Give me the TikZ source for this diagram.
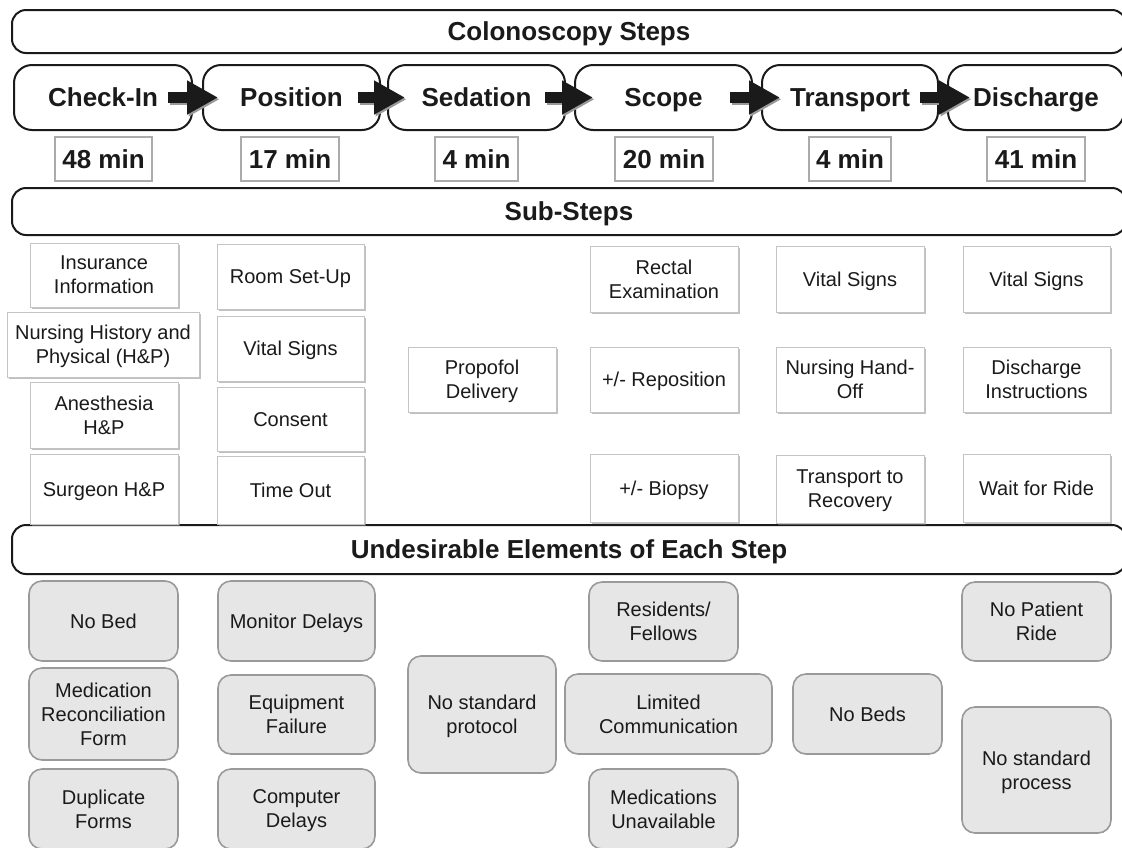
\documentclass[tikz,border=0pt]{standalone}
\usepackage{fontspec}
\setmainfont{Liberation Sans}
\usetikzlibrary{arrows.meta,shadows}
\definecolor{txt}{HTML}{1A1A1A}
\definecolor{gfill}{HTML}{E6E6E6}
\definecolor{gline}{HTML}{9A9A9A}
\definecolor{sline}{HTML}{C4C4C4}
\definecolor{mline}{HTML}{ABABAB}
\newcommand{\nodepth}[1]{\raisebox{0pt}[\height][0pt]{#1}}
\begin{document}
\begin{tikzpicture}[x=1pt,y=-1pt,
  every node/.style={inner sep=0pt, outer sep=0pt, text=txt, align=center},
  bigtext/.style={font=\fontsize{26}{30}\selectfont\bfseries, text height=18.7pt, text depth=0pt},
  one/.style={text height=14.4pt, text depth=0pt},
  hdr/.style={draw=txt, line width=2pt, rounded corners=14pt, fill=white,
    bigtext, minimum width=1114},
  stepbox/.style={draw=txt, line width=2pt, rounded corners=18pt, fill=white,
    bigtext, minimum height=65},
  minbox/.style={draw=mline, line width=1.6pt, fill=white,
    bigtext, minimum height=44},
  subbox/.style={draw=sline, line width=0.8pt, fill=white,
    font=\fontsize{20}{24}\selectfont,
    drop shadow={shadow xshift=1.5pt, shadow yshift=-1.8pt, fill=black!45, opacity=0.55}},
  badbox/.style={draw=gline, line width=1.6pt, fill=gfill, rounded corners=13pt,
    font=\fontsize{20}{24}\selectfont},
  bigarrow/.style={draw=txt, line width=11pt, -{Triangle[length=31pt,width=32pt]}},
  arrshadow/.style={draw=black!40, line width=11pt, -{Triangle[length=31pt,width=32pt]},
    transform canvas={shift={(1.5pt,-1.8pt)}}}
]
\useasboundingbox (0,0) rectangle (1122,847);
\clip (0,0) rectangle (1122,847);

% headers
\node[hdr, minimum height=43] (h1) at (569,31.5) {Colonoscopy Steps};
\node[hdr, minimum height=47] (h2) at (569,211.5) {Sub-Steps};
\node[hdr, minimum height=49] (h3) at (569,549.5) {Undesirable Elements of Each Step};

% steps
\node[stepbox, minimum width=178] (s1) at (103,97.5) {Check-In};
\node[stepbox, minimum width=177] (s2) at (291.5,97.5) {Position};
\node[stepbox, minimum width=177] (s3) at (476.5,97.5) {Sedation};
\node[stepbox, minimum width=177] (s4) at (663.5,97.5) {Scope};
\node[stepbox, minimum width=176] (s5) at (850,97.5) {Transport};
\node[stepbox, minimum width=176] (s6) at (1036,97.5) {Discharge};

% arrows between steps
\draw[arrshadow] ([xshift=-24pt]s1.east) -- ([xshift=15pt]s2.west);
\draw[arrshadow] ([xshift=-22pt]s2.east) -- ([xshift=17pt]s3.west);
\draw[arrshadow] ([xshift=-20pt]s3.east) -- ([xshift=18pt]s4.west);
\draw[arrshadow] ([xshift=-22pt]s4.east) -- ([xshift=18pt]s5.west);
\draw[arrshadow] ([xshift=-18pt]s5.east) -- ([xshift=22pt]s6.west);
\draw[bigarrow] ([xshift=-24pt]s1.east) -- ([xshift=15pt]s2.west);
\draw[bigarrow] ([xshift=-22pt]s2.east) -- ([xshift=17pt]s3.west);
\draw[bigarrow] ([xshift=-20pt]s3.east) -- ([xshift=18pt]s4.west);
\draw[bigarrow] ([xshift=-22pt]s4.east) -- ([xshift=18pt]s5.west);
\draw[bigarrow] ([xshift=-18pt]s5.east) -- ([xshift=22pt]s6.west);

% durations
\node[minbox, minimum width=97] (m1) at (103.5,159) {48 min};
\node[minbox, minimum width=98] (m2) at (290,159) {17 min};
\node[minbox, minimum width=83] (m3) at (476.5,159) {4 min};
\node[minbox, minimum width=98] (m4) at (664,159) {20 min};
\node[minbox, minimum width=82] (m5) at (850,159) {4 min};
\node[minbox, minimum width=98] (m6) at (1036,159) {41 min};

% sub-steps
\node[subbox, minimum width=148, minimum height=64] (a1) at (104,275) {Insurance\\Information};
\node[subbox, minimum width=192, minimum height=65] (a2) at (103,344.5) {Nursing History and\\\nodepth{Physical (H\&P)}};
\node[subbox, minimum width=148, minimum height=66] (a3) at (104,415) {Anesthesia\\H\&P};
\node[subbox, one, minimum width=148, minimum height=70] (a4) at (104,489) {Surgeon H\&P};
\node[subbox, one, minimum width=147, minimum height=65] (b1) at (290.5,276.5) {Room Set-Up};
\node[subbox, one, minimum width=147, minimum height=65] (b2) at (290.5,348.5) {Vital Signs};
\node[subbox, one, minimum width=147, minimum height=64] (b3) at (290.5,419) {Consent};
\node[subbox, one, minimum width=147, minimum height=68] (b4) at (290.5,490) {Time Out};
\node[subbox, minimum width=148, minimum height=65] (c1) at (482,379.5) {Propofol\\\nodepth{Delivery}};
\node[subbox, minimum width=148, minimum height=66] (d1) at (664,279) {Rectal\\Examination};
\node[subbox, one, minimum width=148, minimum height=65] (d2) at (664,379.5) {+/- Reposition};
\node[subbox, one, minimum width=148, minimum height=68] (d3) at (664,488) {+/- Biopsy};
\node[subbox, one, minimum width=148, minimum height=66] (e1) at (850,279) {Vital Signs};
\node[subbox, minimum width=148, minimum height=65] (e2) at (850,379.5) {Nursing Hand-\\Off};
\node[subbox, minimum width=148, minimum height=68] (e3) at (850,489) {Transport to\\\nodepth{Recovery}};
\node[subbox, one, minimum width=147, minimum height=66] (f1) at (1036.5,279) {Vital Signs};
\node[subbox, minimum width=147, minimum height=65] (f2) at (1036.5,379.5) {Discharge\\Instructions};
\node[subbox, one, minimum width=147, minimum height=68] (f3) at (1036.5,488) {Wait for Ride};

% undesirable elements
\node[badbox, one, minimum width=149, minimum height=80] (g1) at (103.5,621) {No Bed};
\node[badbox, minimum width=149, minimum height=92] (g2) at (103.5,714) {Medication\\Reconciliation\\Form};
\node[badbox, minimum width=149, minimum height=80] (g3) at (103.5,809) {Duplicate\\Forms};
\node[badbox, one, minimum width=157, minimum height=80] (k1) at (296.5,621) {Monitor Delays};
\node[badbox, minimum width=157, minimum height=79] (k2) at (296.5,714.5) {Equipment\\Failure};
\node[badbox, minimum width=157, minimum height=80] (k3) at (296.5,809) {Computer\\\nodepth{Delays}};
\node[badbox, minimum width=148, minimum height=117] (i1) at (482,714.5) {No standard\\\nodepth{protocol}};
\node[badbox, minimum width=149, minimum height=79] (j1) at (663.5,621.5) {Residents/\\Fellows};
\node[badbox, minimum width=207, minimum height=80] (j2) at (668.5,714) {Limited\\Communication};
\node[badbox, minimum width=149, minimum height=80] (j3) at (663.5,809) {Medications\\Unavailable};
\node[badbox, one, minimum width=149, minimum height=80] (n1) at (867.5,714) {No Beds};
\node[badbox, minimum width=149, minimum height=79] (l1) at (1036.5,621.5) {No Patient\\Ride};
\node[badbox, minimum width=149, minimum height=126] (l2) at (1036.5,770) {No standard\\\nodepth{process}};
\end{tikzpicture}
\end{document}
